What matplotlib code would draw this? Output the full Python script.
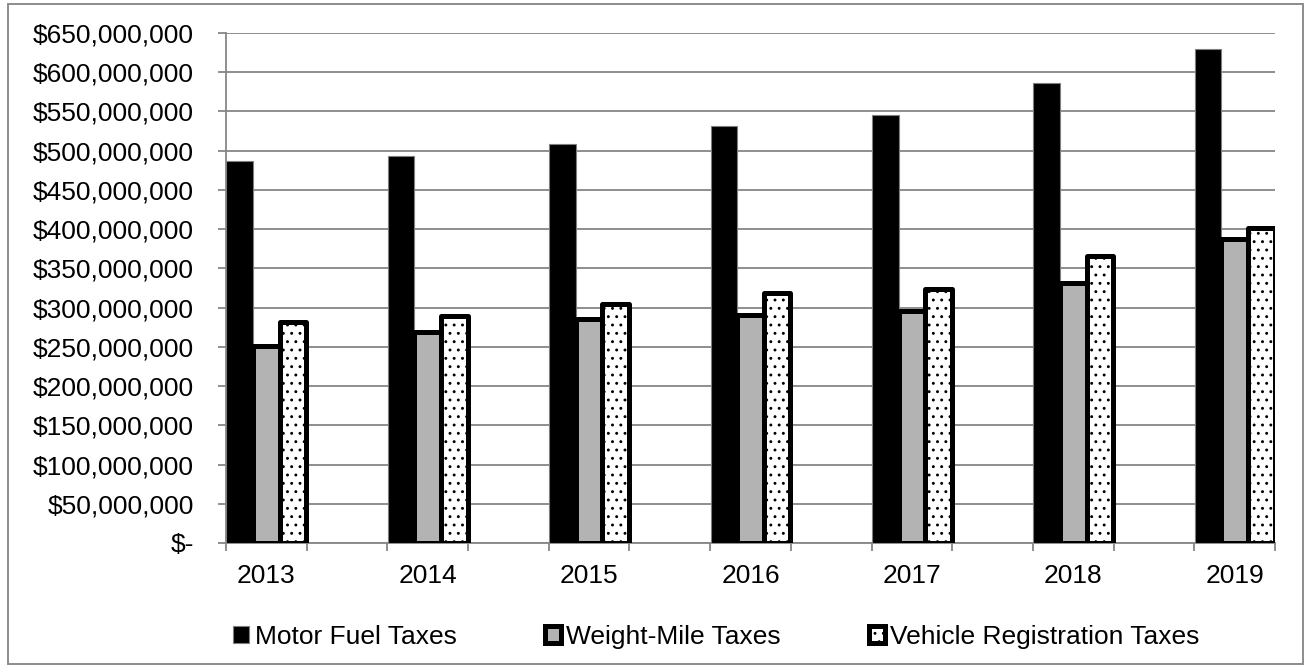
import matplotlib
matplotlib.use("Agg")
import matplotlib.pyplot as plt
from matplotlib.patches import Rectangle
from matplotlib.ticker import FuncFormatter, FixedLocator
import numpy as np

plt.rcParams['font.family'] = ['Liberation Sans', 'DejaVu Sans']
plt.rcParams['hatch.linewidth'] = 0.9
plt.rcParams['hatch.color'] = 'black'

years = ["2013", "2014", "2015", "2016", "2017", "2018", "2019"]
motor_fuel = [487e6, 493e6, 508e6, 531e6, 546e6, 586e6, 630e6]
weight_mile = [251e6, 269e6, 285e6, 291e6, 296e6, 332e6, 388e6]
vehicle_reg = [282e6, 289e6, 304e6, 318e6, 324e6, 366e6, 402e6]

def money(v, pos):
    if v == 0:
        return "$-"
    return "${:,.0f}".format(v)

fs = 19

fig = plt.figure(figsize=(13.05, 6.67), dpi=100)
ax = fig.add_axes([226/1305, 124/667, 1049/1305, 510/667])

# outer chart border
fig.patches.append(Rectangle((8/1305, 3/667), 1295/1305, 660/667, transform=fig.transFigure,
                             fill=False, edgecolor='#8c8c8c', linewidth=1.4))

x = np.arange(len(years))
w = 0.165
ax.bar(x - w, motor_fuel, w, color='black', edgecolor='#7f7f7f', linewidth=0.8,
       label="Motor Fuel Taxes", zorder=3)
ax.bar(x, weight_mile, w, color='#b3b3b3', edgecolor='black', linewidth=3.6,
       joinstyle='round', label="Weight-Mile Taxes", zorder=3)
ax.bar(x + w, vehicle_reg, w, color='white', edgecolor='black', linewidth=3.6,
       hatch='..', joinstyle='round', label="Vehicle Registration Taxes", zorder=4)

ax.set_xlim(-0.25, len(years) - 0.75)
ax.set_ylim(0, 650e6)
ax.set_yticks(np.arange(0, 650e6 + 1, 50e6))
ax.yaxis.set_major_formatter(FuncFormatter(money))
ax.grid(axis='y', color='#868686', linewidth=1.3, zorder=0)

ax.set_xticks(x)
ax.set_xticklabels(years)
ax.xaxis.set_minor_locator(FixedLocator(np.arange(-0.25, len(years) - 0.5, 0.5)))
ax.tick_params(axis='x', which='major', length=0, pad=15, labelsize=fs)
ax.tick_params(axis='x', which='minor', length=6, width=1.3, color='#868686')
ax.tick_params(axis='y', length=6, width=1.3, color='#868686', pad=17, labelsize=fs)

for s in ['top', 'right']:
    ax.spines[s].set_visible(False)
for s in ['left', 'bottom']:
    ax.spines[s].set_color('#868686')
    ax.spines[s].set_linewidth(1.3)

ax.legend(loc='center', bbox_to_anchor=(0.549, 30/667), bbox_transform=fig.transFigure,
          ncol=3, frameon=False, fontsize=fs, handlelength=0.6, handleheight=0.6,
          handletextpad=0.2, columnspacing=3.35)

fig.savefig("out.png", dpi=100)
